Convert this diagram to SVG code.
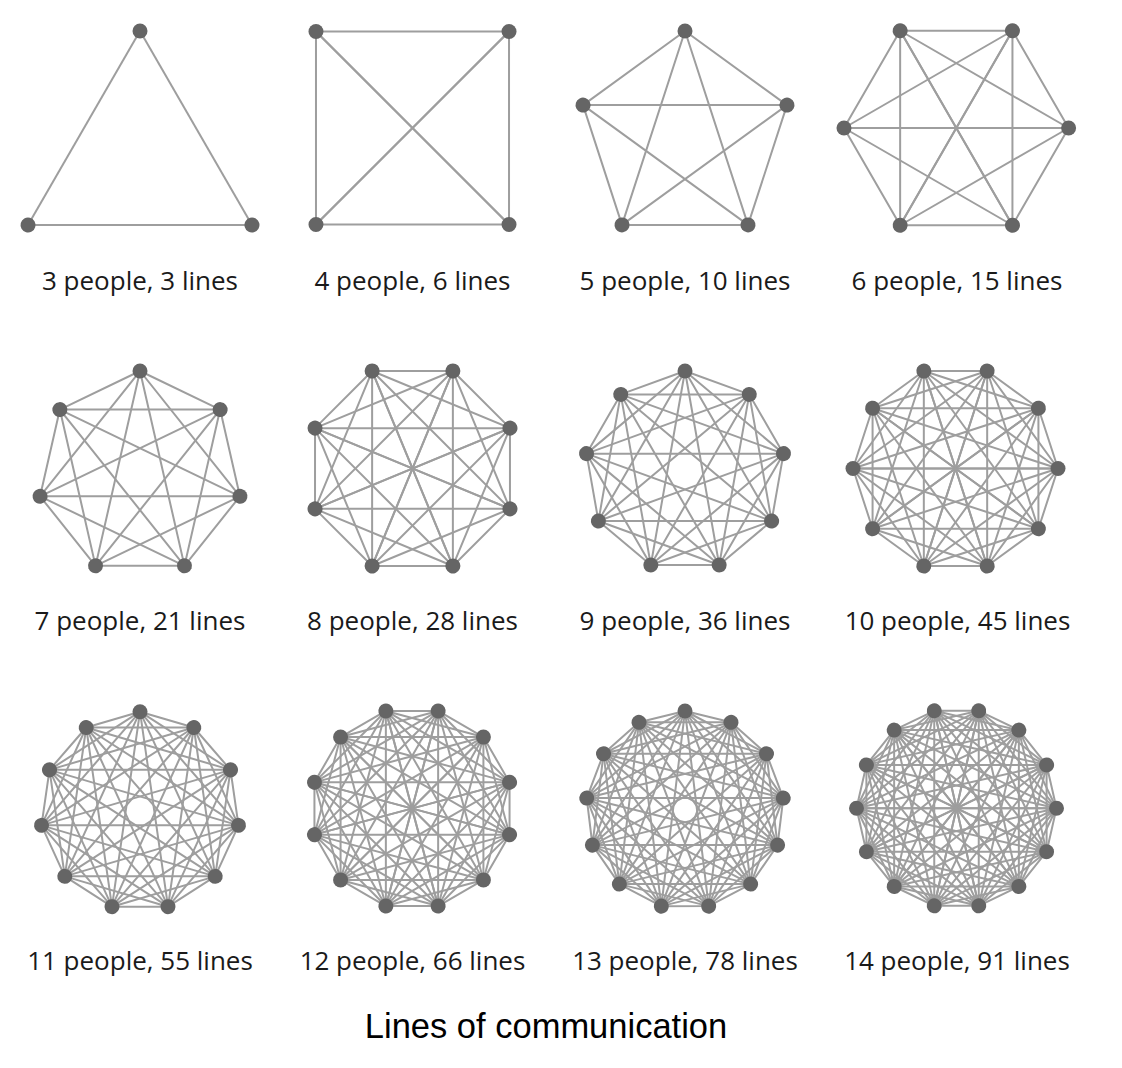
<svg xmlns="http://www.w3.org/2000/svg" xmlns:xlink="http://www.w3.org/1999/xlink" width="1122" height="1068" viewBox="0 0 1122 1068">
<style>
.e{fill:none;stroke:#9e9e9e;stroke-width:2;vector-effect:non-scaling-stroke}
.v{fill:#656565}
.lbl{font-family:"Open Sans","Noto Sans",sans-serif;font-size:26px;fill:#1a1a1a;text-anchor:middle}
.ttl{font-family:"Liberation Sans",Arial,sans-serif;font-size:34.5px;fill:#000;text-anchor:middle}
</style>
<rect width="1122" height="1068" fill="#fff"/>

<g id="graph3" transform="translate(140 160.3)">
 <g class="edges"><path id="s3" class="e" transform="scale(129.3)" d="M0-1L.866.5"/>
  <use href="#s3" transform="rotate(120)"/><use href="#s3" transform="rotate(240)"/></g>
 <g class="nodes"><circle id="v3" class="v" cy="-129.3" r="7.5"/>
  <use href="#v3" transform="rotate(120)"/><use href="#v3" transform="rotate(240)"/></g>
</g>

<g id="graph4" transform="translate(412.5 128) rotate(45)">
 <g class="edges"><path id="s4" class="e" transform="scale(136.5)" d="M0-1L1 0M0-1L0 1"/>
  <use href="#s4" transform="rotate(90)"/><use href="#s4" transform="rotate(180)"/><use href="#s4" transform="rotate(270)"/></g>
 <g class="nodes"><circle id="v4" class="v" cy="-136.5" r="7.5"/>
  <use href="#v4" transform="rotate(90)"/><use href="#v4" transform="rotate(180)"/><use href="#v4" transform="rotate(270)"/></g>
</g>

<g id="graph5" transform="translate(685 138.2)">
 <g class="edges"><path id="s5" class="e" transform="scale(107.2)" d="M0-1L.9511-.309M0-1L.5878.809"/>
  <use href="#s5" transform="rotate(72)"/><use href="#s5" transform="rotate(144)"/><use href="#s5" transform="rotate(216)"/><use href="#s5" transform="rotate(288)"/></g>
 <g class="nodes"><circle id="v5" class="v" cy="-107.2" r="7.5"/>
  <use href="#v5" transform="rotate(72)"/><use href="#v5" transform="rotate(144)"/><use href="#v5" transform="rotate(216)"/><use href="#v5" transform="rotate(288)"/></g>
</g>

<g id="graph6" transform="translate(956.3 128) rotate(30)">
 <g class="edges"><path id="s6" class="e" transform="scale(112.3)" d="M0-1L.866-.5M0-1L.866.5M0-1L0 1"/>
  <use href="#s6" transform="rotate(60)"/><use href="#s6" transform="rotate(120)"/><use href="#s6" transform="rotate(180)"/><use href="#s6" transform="rotate(240)"/><use href="#s6" transform="rotate(300)"/></g>
 <g class="nodes"><circle id="v6" class="v" cy="-112.3" r="7.5"/>
  <use href="#v6" transform="rotate(60)"/><use href="#v6" transform="rotate(120)"/><use href="#v6" transform="rotate(180)"/><use href="#v6" transform="rotate(240)"/><use href="#v6" transform="rotate(300)"/></g>
</g>

<g id="graph7" transform="translate(140 473.5)">
 <g class="edges"><path id="s7" class="e" transform="scale(102.5)" d="M0-1L.7818-.6235M0-1L.9749.2225M0-1L.4339.901"/>
  <use href="#s7" transform="rotate(51.4286)"/><use href="#s7" transform="rotate(102.857)"/><use href="#s7" transform="rotate(154.286)"/><use href="#s7" transform="rotate(205.714)"/><use href="#s7" transform="rotate(257.143)"/><use href="#s7" transform="rotate(308.571)"/></g>
 <g class="nodes"><circle id="v7" class="v" cy="-102.5" r="7.5"/>
  <use href="#v7" transform="rotate(51.4286)"/><use href="#v7" transform="rotate(102.857)"/><use href="#v7" transform="rotate(154.286)"/><use href="#v7" transform="rotate(205.714)"/><use href="#v7" transform="rotate(257.143)"/><use href="#v7" transform="rotate(308.571)"/></g>
</g>

<g id="graph8" transform="translate(412.5 468.5) rotate(22.5)">
 <g class="edges"><path id="s8" class="e" transform="scale(105.5)" d="M0-1L.7071-.7071M0-1L1 0M0-1L.7071.7071M0-1L0 1"/>
  <use href="#s8" transform="rotate(45)"/><use href="#s8" transform="rotate(90)"/><use href="#s8" transform="rotate(135)"/><use href="#s8" transform="rotate(180)"/><use href="#s8" transform="rotate(225)"/><use href="#s8" transform="rotate(270)"/><use href="#s8" transform="rotate(315)"/></g>
 <g class="nodes"><circle id="v8" class="v" cy="-105.5" r="7.5"/>
  <use href="#v8" transform="rotate(45)"/><use href="#v8" transform="rotate(90)"/><use href="#v8" transform="rotate(135)"/><use href="#v8" transform="rotate(180)"/><use href="#v8" transform="rotate(225)"/><use href="#v8" transform="rotate(270)"/><use href="#v8" transform="rotate(315)"/></g>
</g>

<g id="graph9" transform="translate(685 471)">
 <g class="edges"><path id="s9" class="e" transform="scale(100)" d="M0-1L.6428-.766M0-1L.9848-.1736M0-1L.866.5M0-1L.342.9397"/>
  <use href="#s9" transform="rotate(40)"/><use href="#s9" transform="rotate(80)"/><use href="#s9" transform="rotate(120)"/><use href="#s9" transform="rotate(160)"/><use href="#s9" transform="rotate(200)"/><use href="#s9" transform="rotate(240)"/><use href="#s9" transform="rotate(280)"/><use href="#s9" transform="rotate(320)"/></g>
 <g class="nodes"><circle id="v9" class="v" cy="-100" r="7.5"/>
  <use href="#v9" transform="rotate(40)"/><use href="#v9" transform="rotate(80)"/><use href="#v9" transform="rotate(120)"/><use href="#v9" transform="rotate(160)"/><use href="#v9" transform="rotate(200)"/><use href="#v9" transform="rotate(240)"/><use href="#v9" transform="rotate(280)"/><use href="#v9" transform="rotate(320)"/></g>
</g>

<g id="graph10" transform="translate(955.5 468.5) rotate(18)">
 <g class="edges"><path id="s10" class="e" transform="scale(102.5)" d="M0-1L.5878-.809M0-1L.9511-.309M0-1L.9511.309M0-1L.5878.809M0-1L0 1"/>
  <use href="#s10" transform="rotate(36)"/><use href="#s10" transform="rotate(72)"/><use href="#s10" transform="rotate(108)"/><use href="#s10" transform="rotate(144)"/><use href="#s10" transform="rotate(180)"/><use href="#s10" transform="rotate(216)"/><use href="#s10" transform="rotate(252)"/><use href="#s10" transform="rotate(288)"/><use href="#s10" transform="rotate(324)"/></g>
 <g class="nodes"><circle id="v10" class="v" cy="-102.5" r="7.5"/>
  <use href="#v10" transform="rotate(36)"/><use href="#v10" transform="rotate(72)"/><use href="#v10" transform="rotate(108)"/><use href="#v10" transform="rotate(144)"/><use href="#v10" transform="rotate(180)"/><use href="#v10" transform="rotate(216)"/><use href="#v10" transform="rotate(252)"/><use href="#v10" transform="rotate(288)"/><use href="#v10" transform="rotate(324)"/></g>
</g>

<g id="graph11" transform="translate(140 811.2)">
 <g class="edges"><path id="s11" class="e" transform="scale(99.5)" d="M0-1L.5406-.8413M0-1L.9096-.4154M0-1L.9898.1423M0-1L.7557.6549M0-1L.2817.9595"/>
  <use href="#s11" transform="rotate(32.7273)"/><use href="#s11" transform="rotate(65.4545)"/><use href="#s11" transform="rotate(98.1818)"/><use href="#s11" transform="rotate(130.909)"/><use href="#s11" transform="rotate(163.636)"/><use href="#s11" transform="rotate(196.364)"/><use href="#s11" transform="rotate(229.091)"/><use href="#s11" transform="rotate(261.818)"/><use href="#s11" transform="rotate(294.545)"/><use href="#s11" transform="rotate(327.273)"/></g>
 <g class="nodes"><circle id="v11" class="v" cy="-99.5" r="7.5"/>
  <use href="#v11" transform="rotate(32.7273)"/><use href="#v11" transform="rotate(65.4545)"/><use href="#v11" transform="rotate(98.1818)"/><use href="#v11" transform="rotate(130.909)"/><use href="#v11" transform="rotate(163.636)"/><use href="#v11" transform="rotate(196.364)"/><use href="#v11" transform="rotate(229.091)"/><use href="#v11" transform="rotate(261.818)"/><use href="#v11" transform="rotate(294.545)"/><use href="#v11" transform="rotate(327.273)"/></g>
</g>

<g id="graph12" transform="translate(412 808.5) rotate(15)">
 <g class="edges"><path id="s12" class="e" transform="scale(101)" d="M0-1L.5-.866M0-1L.866-.5M0-1L1 0M0-1L.866.5M0-1L.5.866M0-1L0 1"/>
  <use href="#s12" transform="rotate(30)"/><use href="#s12" transform="rotate(60)"/><use href="#s12" transform="rotate(90)"/><use href="#s12" transform="rotate(120)"/><use href="#s12" transform="rotate(150)"/><use href="#s12" transform="rotate(180)"/><use href="#s12" transform="rotate(210)"/><use href="#s12" transform="rotate(240)"/><use href="#s12" transform="rotate(270)"/><use href="#s12" transform="rotate(300)"/><use href="#s12" transform="rotate(330)"/></g>
 <g class="nodes"><circle id="v12" class="v" cy="-101" r="7.5"/>
  <use href="#v12" transform="rotate(30)"/><use href="#v12" transform="rotate(60)"/><use href="#v12" transform="rotate(90)"/><use href="#v12" transform="rotate(120)"/><use href="#v12" transform="rotate(150)"/><use href="#v12" transform="rotate(180)"/><use href="#v12" transform="rotate(210)"/><use href="#v12" transform="rotate(240)"/><use href="#v12" transform="rotate(270)"/><use href="#v12" transform="rotate(300)"/><use href="#v12" transform="rotate(330)"/></g>
</g>

<g id="graph13" transform="translate(685 810)">
 <g class="edges"><path id="s13" class="e" transform="scale(99)" d="M0-1L.4647-.8855M0-1L.823-.5681M0-1L.9927-.1205M0-1L.935.3546M0-1L.6631.7485M0-1L.2393.9709"/>
  <use href="#s13" transform="rotate(27.6923)"/><use href="#s13" transform="rotate(55.3846)"/><use href="#s13" transform="rotate(83.0769)"/><use href="#s13" transform="rotate(110.769)"/><use href="#s13" transform="rotate(138.462)"/><use href="#s13" transform="rotate(166.154)"/><use href="#s13" transform="rotate(193.846)"/><use href="#s13" transform="rotate(221.538)"/><use href="#s13" transform="rotate(249.231)"/><use href="#s13" transform="rotate(276.923)"/><use href="#s13" transform="rotate(304.615)"/><use href="#s13" transform="rotate(332.308)"/></g>
 <g class="nodes"><circle id="v13" class="v" cy="-99" r="7.5"/>
  <use href="#v13" transform="rotate(27.6923)"/><use href="#v13" transform="rotate(55.3846)"/><use href="#v13" transform="rotate(83.0769)"/><use href="#v13" transform="rotate(110.769)"/><use href="#v13" transform="rotate(138.462)"/><use href="#v13" transform="rotate(166.154)"/><use href="#v13" transform="rotate(193.846)"/><use href="#v13" transform="rotate(221.538)"/><use href="#v13" transform="rotate(249.231)"/><use href="#v13" transform="rotate(276.923)"/><use href="#v13" transform="rotate(304.615)"/><use href="#v13" transform="rotate(332.308)"/></g>
</g>

<g id="graph14" transform="translate(956.5 808.3) rotate(12.857)">
 <g class="edges"><path id="s14" class="e" transform="scale(100)" d="M0-1L.4339-.901M0-1L.7818-.6235M0-1L.9749-.2225M0-1L.9749.2225M0-1L.7818.6235M0-1L.4339.901M0-1L0 1"/>
  <use href="#s14" transform="rotate(25.7143)"/><use href="#s14" transform="rotate(51.4286)"/><use href="#s14" transform="rotate(77.1429)"/><use href="#s14" transform="rotate(102.857)"/><use href="#s14" transform="rotate(128.571)"/><use href="#s14" transform="rotate(154.286)"/><use href="#s14" transform="rotate(180)"/><use href="#s14" transform="rotate(205.714)"/><use href="#s14" transform="rotate(231.429)"/><use href="#s14" transform="rotate(257.143)"/><use href="#s14" transform="rotate(282.857)"/><use href="#s14" transform="rotate(308.571)"/><use href="#s14" transform="rotate(334.286)"/></g>
 <g class="nodes"><circle id="v14" class="v" cy="-100" r="7.5"/>
  <use href="#v14" transform="rotate(25.7143)"/><use href="#v14" transform="rotate(51.4286)"/><use href="#v14" transform="rotate(77.1429)"/><use href="#v14" transform="rotate(102.857)"/><use href="#v14" transform="rotate(128.571)"/><use href="#v14" transform="rotate(154.286)"/><use href="#v14" transform="rotate(180)"/><use href="#v14" transform="rotate(205.714)"/><use href="#v14" transform="rotate(231.429)"/><use href="#v14" transform="rotate(257.143)"/><use href="#v14" transform="rotate(282.857)"/><use href="#v14" transform="rotate(308.571)"/><use href="#v14" transform="rotate(334.286)"/></g>
</g>

<g id="labels">
 <text class="lbl" x="140" y="289.5">3 people, 3 lines</text>
 <text class="lbl" x="412.5" y="289.5">4 people, 6 lines</text>
 <text class="lbl" x="685" y="289.5">5 people, 10 lines</text>
 <text class="lbl" x="957" y="289.5">6 people, 15 lines</text>
 <text class="lbl" x="140" y="629.5">7 people, 21 lines</text>
 <text class="lbl" x="412.5" y="629.5">8 people, 28 lines</text>
 <text class="lbl" x="685" y="629.5">9 people, 36 lines</text>
 <text class="lbl" x="957.5" y="629.5">10 people, 45 lines</text>
 <text class="lbl" x="140" y="969.5">11 people, 55 lines</text>
 <text class="lbl" x="412.5" y="969.5">12 people, 66 lines</text>
 <text class="lbl" x="685" y="969.5">13 people, 78 lines</text>
 <text class="lbl" x="957" y="969.5">14 people, 91 lines</text>
 <text class="ttl" x="546" y="1038">Lines of communication</text>
</g>
</svg>
